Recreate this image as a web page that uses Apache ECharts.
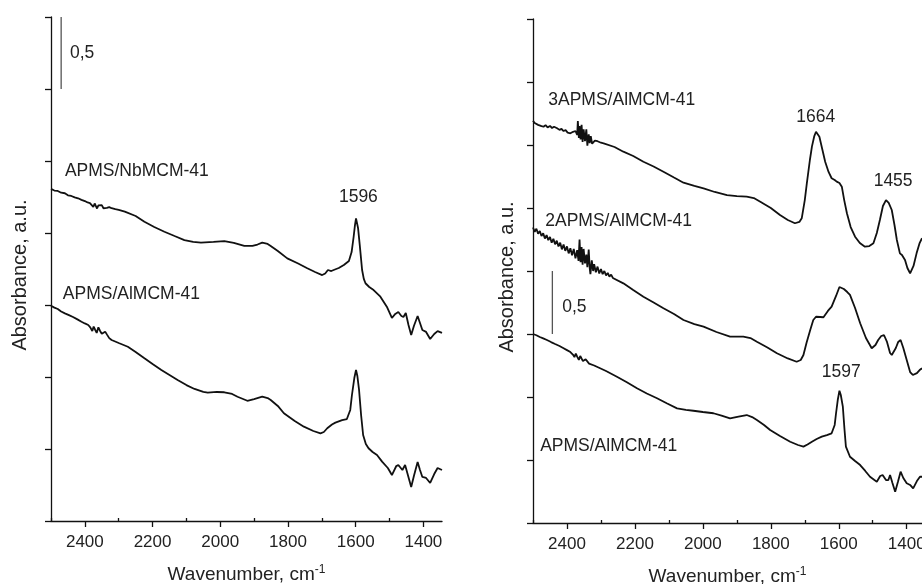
<!DOCTYPE html>
<html>
<head>
<meta charset="utf-8">
<script src="https://cdn.jsdelivr.net/npm/echarts@6/dist/echarts.min.js"></script>
<style>html,body{margin:0;padding:0;background:#fff}#c{width:922px;height:584px}</style>
</head>
<body>
<div id="c"></div>
<script>
// ---------- DATA ----------
const majorTicks = [2400, 2200, 2000, 1800, 1600, 1400];
const minorTicks = [2500, 2300, 2100, 1900, 1700, 1500];

// Left panel: APMS/NbMCM-41
const nbWn = [2500,2490,2480,2470,2459,2450,2440,2430,2420,2410,2400,2392,2385,2380,2375,2371,2368,2364,2360,2355,2350,2345,2340,2335,2328,2321,2310,2300,2282,2250,2224,2195,2165,2135,2106,2080,2057,2020,1988,1960,1929,1905,1890,1876,1860,1851,1830,1802,1770,1743,1720,1699,1690,1682,1672,1665,1650,1635,1620,1612,1606,1602,1599,1596,1593,1588,1581,1576,1571,1560,1547,1527,1508,1493,1483,1474,1465,1459,1452,1444,1436,1428,1417,1410,1403,1392,1380,1368,1358,1345];
const nbAbs = [2.306,2.295,2.292,2.280,2.276,2.262,2.257,2.248,2.241,2.230,2.222,2.212,2.208,2.195,2.181,2.205,2.190,2.170,2.192,2.180,2.194,2.172,2.185,2.174,2.180,2.172,2.165,2.160,2.148,2.118,2.078,2.042,2.009,1.979,1.951,1.938,1.933,1.938,1.944,1.931,1.910,1.910,1.920,1.933,1.924,1.910,1.875,1.824,1.788,1.755,1.729,1.708,1.719,1.743,1.736,1.743,1.757,1.778,1.806,1.868,1.974,2.056,2.102,2.097,2.035,1.917,1.743,1.681,1.651,1.625,1.604,1.558,1.488,1.410,1.438,1.451,1.424,1.417,1.444,1.361,1.292,1.354,1.424,1.375,1.326,1.313,1.264,1.299,1.319,1.306];

// Left panel: APMS/AlMCM-41
const alLWn = [2500,2490,2480,2470,2459,2447,2435,2422,2410,2400,2390,2384,2378,2374,2370,2365,2360,2355,2350,2345,2340,2335,2328,2321,2300,2273,2250,2224,2200,2174,2150,2126,2100,2076,2050,2037,2010,1988,1965,1949,1920,1900,1876,1860,1851,1830,1812,1780,1753,1725,1704,1694,1684,1670,1660,1640,1626,1616,1611,1604,1599,1595,1590,1584,1578,1570,1562,1550,1537,1522,1505,1493,1480,1474,1462,1454,1445,1436,1428,1417,1410,1403,1392,1380,1368,1358,1345];
const alLAbs = [1.495,1.482,1.472,1.455,1.442,1.430,1.417,1.400,1.384,1.372,1.361,1.345,1.319,1.350,1.330,1.306,1.345,1.320,1.300,1.292,1.315,1.296,1.270,1.257,1.236,1.210,1.174,1.130,1.090,1.049,1.014,0.979,0.944,0.917,0.896,0.891,0.896,0.894,0.882,0.863,0.835,0.847,0.863,0.854,0.840,0.799,0.748,0.694,0.655,0.625,0.609,0.618,0.644,0.670,0.683,0.701,0.708,0.771,0.875,0.993,1.049,1.007,0.910,0.736,0.597,0.535,0.505,0.479,0.458,0.412,0.368,0.319,0.382,0.389,0.354,0.389,0.313,0.236,0.313,0.410,0.354,0.306,0.299,0.264,0.326,0.368,0.354];

// Right panel: 3APMS/AlMCM-41
const a3Wn = [2500,2495,2490,2485,2480,2475,2469,2463,2457,2450,2444,2438,2429,2422,2416,2410,2404,2398,2390,2382,2375,2370,2368,2365,2363,2360,2357,2354,2351,2347,2343,2340,2336,2333,2330,2326,2318,2310,2300,2292,2260,2234,2205,2175,2145,2116,2085,2057,2025,1998,1965,1929,1900,1871,1850,1831,1800,1773,1750,1729,1716,1709,1700,1694,1685,1679,1672,1667,1662,1657,1648,1640,1630,1621,1612,1606,1598,1591,1584,1576,1565,1552,1538,1523,1510,1498,1488,1479,1470,1461,1453,1444,1436,1429,1420,1414,1405,1398,1390,1380,1371,1362,1355];
const a3Abs = [3.193,3.175,3.182,3.160,3.170,3.150,3.145,3.158,3.140,3.151,3.135,3.145,3.133,3.120,3.128,3.111,3.118,3.098,3.093,3.105,3.111,3.080,3.190,3.055,3.150,3.045,3.160,3.025,3.125,3.030,3.125,2.995,3.085,3.015,3.071,3.010,3.035,3.030,3.018,3.013,2.984,2.947,2.913,2.867,2.829,2.788,2.742,2.701,2.675,2.656,2.627,2.603,2.595,2.590,2.579,2.550,2.500,2.444,2.405,2.379,2.389,2.418,2.563,2.696,2.881,2.987,3.071,3.105,3.095,3.066,2.960,2.867,2.786,2.736,2.722,2.709,2.698,2.669,2.563,2.458,2.349,2.272,2.222,2.193,2.198,2.220,2.302,2.405,2.516,2.563,2.540,2.484,2.365,2.246,2.140,2.127,2.087,2.024,1.982,2.040,2.140,2.222,2.260];

// Right panel: 2APMS/AlMCM-41
const a2Wn = [2500,2495,2490,2485,2480,2475,2470,2465,2460,2455,2450,2445,2440,2435,2430,2425,2420,2415,2410,2405,2400,2395,2390,2385,2380,2375,2370,2366,2363,2360,2357,2354,2351,2347,2343,2340,2336,2333,2331,2327,2323,2320,2315,2310,2305,2300,2295,2290,2285,2280,2275,2270,2265,2260,2234,2205,2175,2145,2116,2085,2057,2025,1998,1960,1920,1900,1881,1860,1841,1810,1782,1750,1724,1712,1704,1695,1684,1675,1667,1655,1645,1632,1621,1608,1598,1594,1585,1575,1567,1552,1537,1520,1503,1492,1484,1475,1467,1458,1449,1444,1432,1425,1418,1410,1400,1390,1382,1370,1362,1355];
const a2Abs = [2.345,2.310,2.335,2.295,2.318,2.278,2.300,2.258,2.285,2.245,2.270,2.225,2.255,2.212,2.240,2.195,2.225,2.172,2.210,2.160,2.195,2.140,2.180,2.125,2.175,2.100,2.165,2.080,2.250,2.070,2.190,2.050,2.175,2.060,2.130,2.030,2.170,2.020,1.975,2.085,2.000,2.055,1.990,2.035,1.980,2.015,1.975,2.000,1.965,1.985,1.955,1.972,1.945,1.955,1.902,1.849,1.796,1.750,1.704,1.659,1.611,1.579,1.558,1.516,1.479,1.479,1.479,1.468,1.439,1.393,1.347,1.306,1.280,1.294,1.333,1.429,1.532,1.611,1.637,1.635,1.633,1.683,1.717,1.802,1.873,1.881,1.857,1.833,1.810,1.706,1.585,1.468,1.387,1.413,1.452,1.484,1.492,1.437,1.349,1.333,1.389,1.437,1.452,1.389,1.294,1.198,1.175,1.190,1.214,1.228];

// Right panel: APMS/AlMCM-41
const a1Wn = [2500,2490,2480,2470,2459,2447,2435,2422,2410,2400,2390,2382,2378,2374,2370,2365,2361,2357,2353,2350,2345,2340,2335,2330,2320,2312,2285,2253,2225,2194,2165,2135,2105,2076,2050,2028,2000,1969,1945,1920,1895,1871,1855,1841,1820,1802,1773,1743,1720,1704,1692,1679,1665,1650,1635,1621,1612,1608,1603,1598,1594,1588,1583,1579,1567,1552,1537,1522,1508,1495,1488,1478,1471,1461,1454,1449,1442,1434,1426,1418,1410,1400,1390,1381,1370,1361,1355];
const a1Abs = [1.500,1.490,1.476,1.465,1.452,1.436,1.421,1.405,1.387,1.372,1.357,1.335,1.317,1.345,1.320,1.294,1.325,1.317,1.285,1.278,1.300,1.286,1.265,1.262,1.250,1.240,1.206,1.161,1.119,1.069,1.028,0.990,0.948,0.910,0.897,0.891,0.881,0.871,0.853,0.831,0.845,0.857,0.841,0.817,0.778,0.738,0.690,0.645,0.619,0.606,0.623,0.645,0.667,0.685,0.698,0.712,0.778,0.871,0.976,1.050,1.016,0.923,0.738,0.606,0.526,0.492,0.460,0.413,0.367,0.341,0.328,0.373,0.381,0.341,0.341,0.381,0.317,0.248,0.325,0.407,0.357,0.315,0.302,0.275,0.333,0.367,0.367];

// Scale bars (0,5 absorbance units)
const scaleLeftWn = [2470, 2470];
const scaleLeftAbs = [3.0, 3.5];
const scaleRightWn = [2443, 2443];
const scaleRightAbs = [1.5, 2.0];

// Annotations: [panel, wavenumber, absorbance, text, align]
const annotations = [
  [0, 2459, 2.43, 'APMS/NbMCM-41', 'left'],
  [0, 2465, 1.576, 'APMS/AlMCM-41', 'left'],
  [0, 1592, 2.25, '1596', 'center'],
  [0, 2444, 3.25, '0,5', 'left'],
  [1, 2455, 3.357, '3APMS/AlMCM-41', 'left'],
  [1, 1668, 3.222, '1664', 'center'],
  [1, 1440, 2.714, '1455', 'center'],
  [1, 2464, 2.397, '2APMS/AlMCM-41', 'left'],
  [1, 2414, 1.714, '0,5', 'left'],
  [1, 1593, 1.198, '1597', 'center'],
  [1, 2479, 0.611, 'APMS/AlMCM-41', 'left']
];

// ---------- CHART ----------
const FONT = 'Liberation Sans, Arial, sans-serif';
const pairs = (w, a) => w.map((x, i) => [x, a[i]]);
const chart = echarts.init(document.getElementById('c'), null, {renderer: 'canvas'});

const panels = [
  {grid: {left: 51, top: 17, width: 391, height: 504}, xmin: 1345, ymax: 3.5, nameGap: 21},
  {grid: {left: 533, top: 19, right: 0, height: 504}, xmin: 1355, ymax: 4.0, nameGap: 16}
];

const xAxis = [], yAxis = [];
panels.forEach((p, g) => {
  xAxis.push({
    type: 'value', gridIndex: g, inverse: true, min: p.xmin, max: 2500,
    axisLine: {show: true, onZero: false, lineStyle: {color: '#111', width: 1.3}},
    axisTick: {show: true, inside: false, length: 6, customValues: majorTicks, lineStyle: {color: '#111', width: 1.3}},
    axisLabel: {show: true, customValues: majorTicks, margin: 13, color: '#222', fontSize: 17, fontFamily: FONT,
      hideOverlap: false, formatter: v => String(v)},
    splitLine: {show: false},
    name: 'Wavenumber, cm{sup|-1}', nameLocation: 'middle', nameGap: 43,
    nameTextStyle: {color: '#222', fontSize: 19, fontFamily: FONT,
      rich: {sup: {fontSize: 12, fontFamily: FONT, color: '#222', padding: [0, 0, 10, 0]}}}
  });
  xAxis.push({
    type: 'value', gridIndex: g, inverse: true, min: p.xmin, max: 2500,
    axisLine: {show: false},
    axisTick: {show: true, inside: false, length: 3, customValues: minorTicks, lineStyle: {color: '#111', width: 1.3}},
    axisLabel: {show: false},
    splitLine: {show: false}
  });
  yAxis.push({
    type: 'value', gridIndex: g, min: 0, max: p.ymax, interval: 0.5,
    axisLine: {show: true, onZero: false, lineStyle: {color: '#111', width: 1.3}},
    axisTick: {show: true, inside: false, length: 6, lineStyle: {color: '#111', width: 1.3}},
    axisLabel: {show: false},
    splitLine: {show: false},
    name: 'Absorbance, a.u.', nameLocation: 'middle', nameGap: p.nameGap,
    nameTextStyle: {color: '#222', fontSize: 20, fontFamily: FONT, padding: [0, 12, 0, 0]}
  });
});

function lineSeries(name, g, w, a, color, width) {
  return {
    name, type: 'line', xAxisIndex: 2 * g, yAxisIndex: g,
    data: pairs(w, a), showSymbol: false, symbol: 'none', smooth: false,
    lineStyle: {color, width}, silent: true, animation: false
  };
}

const series = [
  lineSeries('APMS/NbMCM-41', 0, nbWn, nbAbs, '#111', 1.8),
  lineSeries('APMS/AlMCM-41 (left)', 0, alLWn, alLAbs, '#111', 1.8),
  lineSeries('3APMS/AlMCM-41', 1, a3Wn, a3Abs, '#111', 1.8),
  lineSeries('2APMS/AlMCM-41', 1, a2Wn, a2Abs, '#111', 1.8),
  lineSeries('APMS/AlMCM-41 (right)', 1, a1Wn, a1Abs, '#111', 1.8),
  lineSeries('scale left', 0, scaleLeftWn, scaleLeftAbs, '#555', 1.3),
  lineSeries('scale right', 1, scaleRightWn, scaleRightAbs, '#555', 1.3)
];

chart.setOption({
  animation: false,
  backgroundColor: '#fff',
  grid: panels.map(p => Object.assign({containLabel: false, outerBoundsMode: 'none'}, p.grid)),
  xAxis, yAxis, series
});

const graphics = annotations.map(([g, wn, v, text, align]) => {
  const pt = chart.convertToPixel({xAxisIndex: 2 * g, yAxisIndex: g}, [wn, v]);
  return {
    type: 'text', x: pt[0], y: pt[1], silent: true,
    style: {text, fill: '#222', font: '17.5px ' + FONT, align, verticalAlign: 'middle'}
  };
});
chart.setOption({graphic: graphics});
</script>
</body>
</html>
